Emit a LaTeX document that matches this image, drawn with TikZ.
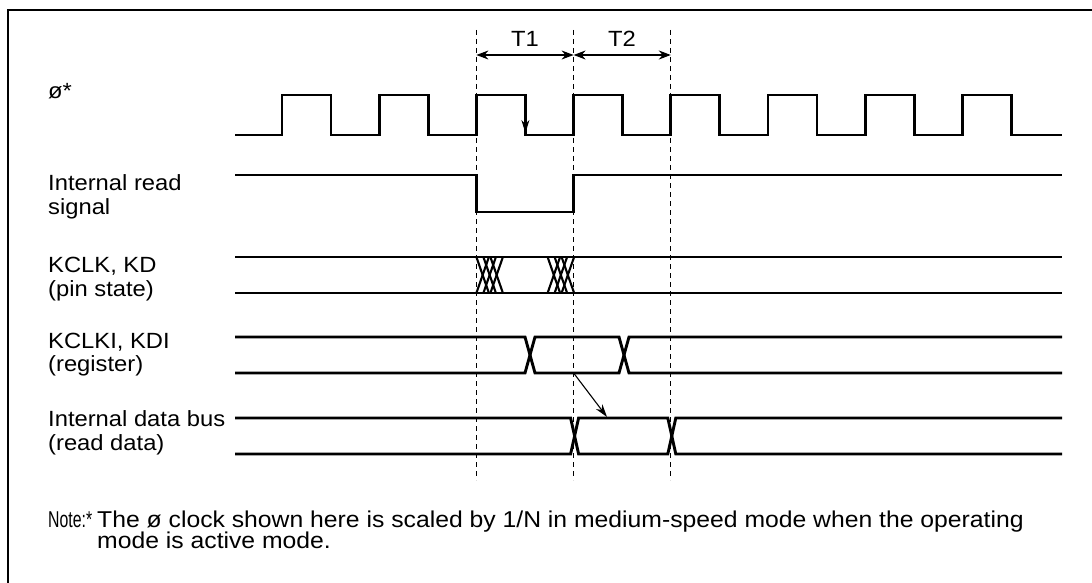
\documentclass[tikz,border=0pt]{standalone}
\usepackage{fontspec}
\setmainfont{Liberation Sans}[FakeStretch=1.08]
\usetikzlibrary{arrows.meta}

\begin{document}
\begin{tikzpicture}[
        x=1pt, y=-1pt,
        sigline/.style={
            line width=2.9pt,
            line join=miter
        },
        hatchline/.style={
            line width=2.1pt
        },
        gridline/.style={
            line width=1pt,
            dash pattern=on 5pt off 4pt
        },
        dimarrow/.style={
            {Stealth[length=12pt,width=9pt]}-{Stealth[length=12pt,width=9pt]},
            line width=1.1pt
        },
        causearrow/.style={
            -{Stealth[length=13pt,width=8pt]},
            line width=1.1pt
        },
        siglabel/.style={
            anchor=base west,
            align=left,
            inner sep=0pt,
            font=\fontsize{22}{23.3}\selectfont
        },
        notetext/.style={
            anchor=base west,
            inner sep=0pt,
            font=\fontsize{22.9}{24}\selectfont
        }
    ]

        \useasboundingbox (0,0) rectangle (1092,583);

        % frame
        \draw[line width=2.2pt] (8,583) -- (8,10) -- (1092,10);

        % timing references
        \coordinate (t0top) at (476.4,30);
        \coordinate (t1top) at (573.6,30);
        \coordinate (t2top) at (670.8,30);
        \coordinate (t0bot) at (476.4,480);
        \coordinate (t1bot) at (573.6,480);
        \coordinate (t2bot) at (670.8,480);

        \draw[gridline] (t0top) -- (t0bot);
        \draw[gridline] (t1top) -- (t1bot);
        \draw[gridline] (t2top) -- (t2bot);

        \coordinate (d0) at (476.4,55);
        \coordinate (d1) at (573.6,55);
        \coordinate (d2) at (670.8,55);
        \draw[dimarrow] (d0) -- (d1);
        \draw[dimarrow] (d1) -- (d2);
        \node[font=\fontsize{22}{24}\selectfont, inner sep=0pt] (tone) at (525,39) {T1};
        \node[font=\fontsize{22}{24}\selectfont, inner sep=0pt] (ttwo) at (622,39) {T2};

        % signal names (anchored on the last line)
        \node[siglabel] (clklbl) at (48,99) {ø*};
        \node[siglabel] (rdlbl) at (48,214) {Internal read\\signal};
        \node[siglabel] (pinlbl) at (48,296) {KCLK, KD\\(pin state)};
        \node[siglabel] (reglbl) at (48,371.3) {KCLKI, KDI\\(register)};
        \node[siglabel] (buslbl) at (48,450) {Internal data bus\\(read data)};

        % clock
        \draw[sigline] (235,135)
            \foreach \k in {0,...,7} {
                -- ({282+97.2*\k},135) -- ({282+97.2*\k},95)
                -- ({331+97.2*\k},95) -- ({331+97.2*\k},135)
            } -- (1062,135);
        \coordinate (fallhi) at (525.4,95);
        \coordinate (falllo) at (525.4,133);
        \draw[causearrow] (fallhi) -- (falllo);

        % internal read signal
        \draw[sigline] (235,175) -- (476.4,175) -- (476.4,212)
            -- (573.6,212) -- (573.6,175) -- (1062,175);

        % pin state
        \draw[sigline] (235,257) -- (1062,257);
        \draw[sigline] (235,293) -- (1062,293);
        \foreach \a in {476.4,547.6} {
            \foreach \s in {0,7,14} {
                \draw[hatchline] ({\a+\s},257) -- ({\a+\s+12.5},293);
                \draw[hatchline] ({\a+\s},293) -- ({\a+\s+12.5},257);
            }
        }

        % register
        \draw[sigline] (235,337) -- (525,337) -- (535,373) -- (619,373)
            -- (629,337) -- (1062,337);
        \draw[sigline] (235,373) -- (525,373) -- (535,337) -- (619,337)
            -- (629,373) -- (1062,373);

        % internal data bus
        \draw[sigline] (235,418) -- (570.6,418) -- (578.6,454) -- (667.8,454)
            -- (675.8,418) -- (1062,418);
        \draw[sigline] (235,454) -- (570.6,454) -- (578.6,418) -- (667.8,418)
            -- (675.8,454) -- (1062,454);

        \coordinate (regedge) at (573.6,373);
        \coordinate (busedge) at (607,417);
        \draw[causearrow] (regedge) -- (busedge);

        % note
        \node[notetext] (notehd) at (48,527) {\scalebox{0.64}[1]{Note:*}};
        \node[notetext] (noteone) at (97,527) {The ø clock shown here is scaled by 1/N in medium-speed mode when the operating};
        \node[notetext] (notetwo) at (97,548) {mode is active mode.};

    \end{tikzpicture}
\end{document}
